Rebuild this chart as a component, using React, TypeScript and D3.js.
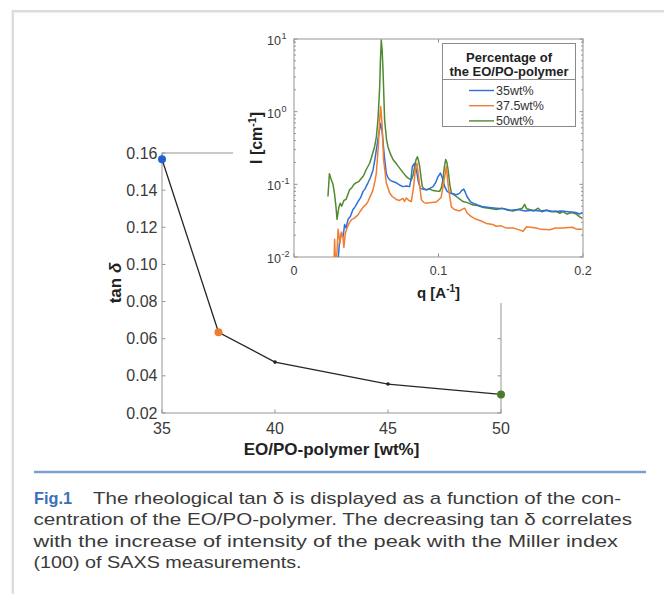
import React from "react";
import * as d3 from "d3";

const width = 664;
const height = 594;

// main chart: tan delta vs polymer content
const wtPct = [35, 37.5, 40, 45, 50];
const tanDelta = [0.1566, 0.0635, 0.0474, 0.0356, 0.03];
const markerColor = ["#1f62d0", "#ef7d2f", "#222", "#222", "#4a7d2a"];
const markerSize = [4, 4, 1.8, 1.8, 4];
const mainXTicks = [35, 40, 45, 50];
const mainYTicks = [0.02, 0.04, 0.06, 0.08, 0.1, 0.12, 0.14, 0.16];

// inset: SAXS curves, [q, I]
const saxs35: [number, number][] = [
  [0.0305, 0.009], [0.0315, 0.016], [0.0328, 0.021], [0.034, 0.019], [0.035, 0.028], [0.036, 0.025],
  [0.0374, 0.033], [0.039, 0.036], [0.0408, 0.045], [0.042, 0.048], [0.0443, 0.058], [0.046, 0.065],
  [0.0478, 0.08], [0.049, 0.086], [0.0512, 0.105], [0.053, 0.125], [0.0547, 0.158], [0.056, 0.22],
  [0.057, 0.3], [0.0588, 0.51], [0.06, 0.69], [0.0611, 0.51], [0.0623, 0.27], [0.0639, 0.14],
  [0.065, 0.125], [0.0662, 0.115], [0.068, 0.11], [0.0708, 0.105], [0.073, 0.098], [0.0754, 0.093],
  [0.078, 0.095], [0.08, 0.093], [0.081, 0.12], [0.0819, 0.176], [0.0835, 0.195], [0.0851, 0.143],
  [0.086, 0.11], [0.0874, 0.088], [0.089, 0.086], [0.0916, 0.084], [0.094, 0.088], [0.0962, 0.093],
  [0.098, 0.105], [0.0997, 0.128], [0.1013, 0.143], [0.1025, 0.125], [0.1043, 0.093], [0.106, 0.08],
  [0.1077, 0.076], [0.11, 0.074], [0.1123, 0.072], [0.1145, 0.075], [0.116, 0.082], [0.1175, 0.086],
  [0.1185, 0.078], [0.1197, 0.068], [0.122, 0.058], [0.1239, 0.055], [0.127, 0.052], [0.131, 0.049],
  [0.135, 0.048], [0.14, 0.047], [0.145, 0.046], [0.15, 0.044], [0.155, 0.045], [0.16, 0.043],
  [0.165, 0.044], [0.17, 0.043], [0.175, 0.044], [0.18, 0.042], [0.185, 0.043], [0.19, 0.042],
  [0.195, 0.041], [0.1975, 0.039], [0.1995, 0.041]
];
const saxs375: [number, number][] = [
  [0.0277, 0.008], [0.0281, 0.0175], [0.0288, 0.008], [0.0298, 0.012], [0.0305, 0.024], [0.0318, 0.0155],
  [0.0328, 0.022], [0.0339, 0.0189], [0.0345, 0.0135], [0.0355, 0.021], [0.037, 0.026], [0.0385, 0.03],
  [0.04, 0.033], [0.0415, 0.034], [0.0443, 0.038], [0.046, 0.043], [0.048, 0.049], [0.05, 0.053],
  [0.0512, 0.058], [0.053, 0.07], [0.0547, 0.084], [0.056, 0.11], [0.057, 0.143], [0.0583, 0.33],
  [0.0593, 0.77], [0.06, 1.18], [0.0609, 0.69], [0.062, 0.22], [0.0639, 0.105], [0.0662, 0.076],
  [0.068, 0.068], [0.0708, 0.062], [0.073, 0.06], [0.0754, 0.064], [0.0765, 0.058], [0.0777, 0.065],
  [0.0795, 0.06], [0.0812, 0.058], [0.0828, 0.093], [0.0842, 0.176], [0.0851, 0.195], [0.0865, 0.115],
  [0.0881, 0.062], [0.09, 0.056], [0.0916, 0.055], [0.094, 0.056], [0.0985, 0.057], [0.1018, 0.066],
  [0.1043, 0.128], [0.1054, 0.176], [0.1068, 0.093], [0.1089, 0.049], [0.111, 0.045], [0.1146, 0.043],
  [0.117, 0.046], [0.1181, 0.047], [0.12, 0.04], [0.1227, 0.036], [0.1262, 0.033], [0.13, 0.031],
  [0.1331, 0.029], [0.1375, 0.028], [0.14, 0.0265], [0.143, 0.027], [0.147, 0.025], [0.1516, 0.025],
  [0.155, 0.024], [0.1585, 0.0226], [0.161, 0.026], [0.1677, 0.025], [0.171, 0.024], [0.177, 0.0237],
  [0.181, 0.025], [0.186, 0.025], [0.1925, 0.0257], [0.196, 0.024], [0.1995, 0.024]
];
const saxs50: [number, number][] = [
  [0.0235, 0.068], [0.0245, 0.14], [0.0255, 0.12], [0.027, 0.1], [0.028, 0.075], [0.029, 0.05],
  [0.0298, 0.033], [0.031, 0.048], [0.032, 0.055], [0.033, 0.05], [0.0345, 0.06], [0.036, 0.062],
  [0.0375, 0.075], [0.0385, 0.084], [0.04, 0.09], [0.0415, 0.1], [0.043, 0.105], [0.045, 0.11],
  [0.0465, 0.12], [0.048, 0.13], [0.05, 0.16], [0.0524, 0.195], [0.054, 0.25], [0.0558, 0.33],
  [0.057, 0.45], [0.0581, 0.77], [0.0593, 2.2], [0.0598, 5], [0.0604, 9.7], [0.061, 7],
  [0.0616, 3.75], [0.0622, 1.6], [0.0627, 0.77], [0.064, 0.42], [0.065, 0.33], [0.0668, 0.26],
  [0.0685, 0.22], [0.071, 0.19], [0.0731, 0.167], [0.0755, 0.145], [0.0777, 0.128], [0.0795, 0.12],
  [0.0812, 0.115], [0.0825, 0.135], [0.0835, 0.176], [0.0845, 0.22], [0.0854, 0.24], [0.0862, 0.21],
  [0.087, 0.176], [0.0878, 0.13], [0.0888, 0.093], [0.09, 0.087], [0.0916, 0.084], [0.094, 0.086],
  [0.0962, 0.082], [0.0985, 0.081], [0.1008, 0.08], [0.102, 0.09], [0.103, 0.115], [0.104, 0.17],
  [0.105, 0.22], [0.1058, 0.2], [0.1066, 0.16], [0.1078, 0.1], [0.1089, 0.076], [0.1105, 0.072],
  [0.1123, 0.068], [0.115, 0.062], [0.117, 0.058], [0.12, 0.056], [0.1239, 0.052], [0.127, 0.051],
  [0.131, 0.048], [0.135, 0.047], [0.14, 0.045], [0.144, 0.047], [0.148, 0.044], [0.1516, 0.043],
  [0.155, 0.045], [0.158, 0.047], [0.1596, 0.053], [0.161, 0.046], [0.163, 0.045], [0.166, 0.043],
  [0.169, 0.047], [0.1715, 0.042], [0.1746, 0.044], [0.178, 0.042], [0.181, 0.043], [0.184, 0.04],
  [0.186, 0.042], [0.189, 0.039], [0.192, 0.041], [0.1954, 0.039], [0.1975, 0.036], [0.1995, 0.034]
];
const seriesNames = ["35wt%", "37.5wt%", "50wt%"];
const seriesColors = ["#2f6fd6", "#f07d32", "#4f8a2e"];
const insetXTicks = [0, 0.1, 0.2];
const insetYExp = [-2, -1, 0, 1];

const captionLines = [
  "The rheological tan \u03b4 is displayed as a function of the con-",
  "centration of the EO/PO-polymer. The decreasing tan \u03b4 correlates",
  "with the increase of intensity of the peak with the Miller index",
  "(100) of SAXS measurements."
];

const font = "'Liberation Sans', Arial, sans-serif";
const axisGray = "#959595";
const labelGray = "#3a3a3a";

export default function App() {
  // main axes
  const x = d3.scaleLinear().domain([35, 50]).range([162, 501]);
  const y = d3.scaleLinear().domain([0.02, 0.16]).range([413, 153]);
  const mainLine = d3
    .line<number>()
    .x((d, i) => x(wtPct[i]))
    .y(d => y(d));

  // inset axes
  const qx = d3.scaleLinear().domain([0, 0.2]).range([294, 583]);
  const iy = d3.scaleLog().domain([0.01, 10]).range([257, 39]);
  const saxsLine = d3
    .line<[number, number]>()
    .x(d => qx(d[0]))
    .y(d => iy(d[1]));
  const minorTicks: number[] = [];
  insetYExp.slice(0, 3).forEach(e => {
    for (let k = 2; k <= 9; k++) minorTicks.push(k * Math.pow(10, e));
  });

  const tick = 3.5;

  return (
    <svg
      width={width}
      height={height}
      style={{ position: "absolute", left: 0, top: 0, background: "#fff" }}
      fontFamily={font}
    >
      {/* page frame */}
      <line x1={12.8} x2={12.8} y1={10} y2={height} stroke="#dcdcdc" strokeWidth={2.4} />
      <line x1={12} x2={width} y1={11.2} y2={11.2} stroke="#dcdcdc" strokeWidth={2.4} />

      {/* main chart box */}
      <rect
        x={x(35)}
        y={y(0.16)}
        width={x(50) - x(35)}
        height={y(0.02) - y(0.16)}
        fill="none"
        stroke={axisGray}
        strokeWidth={1}
      />
      {mainYTicks.map(t => (
        <g key={"my" + t}>
          <line x1={x(35)} x2={x(35) + tick} y1={y(t)} y2={y(t)} stroke={axisGray} />
          <line x1={x(50)} x2={x(50) - tick} y1={y(t)} y2={y(t)} stroke={axisGray} />
          <text
            x={x(35) - 4.5}
            y={y(t) + 5.5}
            fontSize={16}
            textAnchor="end"
            fill={labelGray}
          >
            {t.toFixed(2)}
          </text>
        </g>
      ))}
      {mainXTicks.map(t => (
        <g key={"mx" + t}>
          <line x1={x(t)} x2={x(t)} y1={y(0.02)} y2={y(0.02) - tick} stroke={axisGray} />
          <line x1={x(t)} x2={x(t)} y1={y(0.16)} y2={y(0.16) + tick} stroke={axisGray} />
          <text x={x(t)} y={y(0.02) + 21} fontSize={16} textAnchor="middle" fill={labelGray}>
            {t}
          </text>
        </g>
      ))}
      <path d={mainLine(tanDelta) || ""} fill="none" stroke="#262626" strokeWidth={1.3} />
      {tanDelta.map((v, i) => (
        <circle key={"pt" + i} cx={x(wtPct[i])} cy={y(v)} r={markerSize[i]} fill={markerColor[i]} />
      ))}
      <text
        x={(x(35) + x(50)) / 2}
        y={455}
        fontSize={17}
        fontWeight="bold"
        textAnchor="middle"
        fill="#222"
      >
        EO/PO-polymer [wt%]
      </text>
      <text
        transform={`translate(121,${283}) rotate(-90)`}
        fontSize={17}
        fontWeight="bold"
        textAnchor="middle"
        fill="#222"
      >
        tan <tspan fontStyle="italic">{"\u03b4"}</tspan>
      </text>

      {/* inset figure (sits on top of the main box) */}
      <rect x={233} y={22} width={372} height={281} fill="#fff" />
      <defs>
        <clipPath id="insetClip">
          <rect x={qx(0)} y={iy(10)} width={qx(0.2) - qx(0)} height={iy(0.01) - iy(10)} />
        </clipPath>
      </defs>
      <rect
        x={qx(0)}
        y={iy(10)}
        width={qx(0.2) - qx(0)}
        height={iy(0.01) - iy(10)}
        fill="none"
        stroke={axisGray}
      />
      {insetYExp.map(e => (
        <g key={"iy" + e}>
          <line x1={qx(0)} x2={qx(0) + tick} y1={iy(Math.pow(10, e))} y2={iy(Math.pow(10, e))} stroke={axisGray} />
          <line x1={qx(0.2)} x2={qx(0.2) - tick} y1={iy(Math.pow(10, e))} y2={iy(Math.pow(10, e))} stroke={axisGray} />
          <text x={qx(0) - 13} y={iy(Math.pow(10, e)) + 6} fontSize={12.5} textAnchor="end" fill={labelGray}>
            10
          </text>
          <text x={qx(0) - 12.5} y={iy(Math.pow(10, e)) + 0} fontSize={9} textAnchor="start" fill={labelGray}>
            {e}
          </text>
        </g>
      ))}
      {minorTicks.map(m => (
        <g key={"mn" + m}>
          <line x1={qx(0)} x2={qx(0) + 2} y1={iy(m)} y2={iy(m)} stroke={axisGray} />
          <line x1={qx(0.2)} x2={qx(0.2) - 2} y1={iy(m)} y2={iy(m)} stroke={axisGray} />
        </g>
      ))}
      {insetXTicks.map(t => (
        <g key={"ix" + t}>
          <line x1={qx(t)} x2={qx(t)} y1={iy(0.01)} y2={iy(0.01) - tick} stroke={axisGray} />
          <line x1={qx(t)} x2={qx(t)} y1={iy(10)} y2={iy(10) + tick} stroke={axisGray} />
          <text x={qx(t)} y={iy(0.01) + 18} fontSize={12.5} textAnchor="middle" fill={labelGray}>
            {t === 0 ? "0" : String(t)}
          </text>
        </g>
      ))}
      <g clipPath="url(#insetClip)" fill="none" strokeWidth={1.5} strokeLinejoin="round">
        <path d={saxsLine(saxs50) || ""} stroke={seriesColors[2]} />
        <path d={saxsLine(saxs35) || ""} stroke={seriesColors[0]} />
        <path d={saxsLine(saxs375) || ""} stroke={seriesColors[1]} />
      </g>
      <text x={(qx(0) + qx(0.2)) / 2} y={298} fontSize={15} fontWeight="bold" textAnchor="middle" fill="#222">
        q [A<tspan dy={-6} fontSize={10}>-1</tspan>
        <tspan dy={6}>]</tspan>
      </text>
      <text
        transform={`translate(262,${138}) rotate(-90)`}
        fontSize={16}
        fontWeight="bold"
        textAnchor="middle"
        fill="#222"
      >
        I [cm<tspan dy={-6} fontSize={10.5}>-1</tspan>
        <tspan dy={6}>]</tspan>
      </text>

      {/* legend */}
      <rect x={442.5} y={43.5} width={133} height={83} fill="#fff" stroke="#8a8a8a" />
      <line x1={442.5} x2={575.5} y1={79.5} y2={79.5} stroke="#8a8a8a" />
      <text x={509} y={61.5} fontSize={13} fontWeight="bold" textAnchor="middle" fill="#222">
        Percentage of
      </text>
      <text x={509} y={76} fontSize={13} fontWeight="bold" textAnchor="middle" fill="#222">
        the EO/PO-polymer
      </text>
      {seriesNames.map((s, i) => (
        <g key={s}>
          <line x1={469} x2={494} y1={90.5 + i * 15.2} y2={90.5 + i * 15.2} stroke={seriesColors[i]} strokeWidth={1.4} />
          <text x={496} y={95 + i * 15.2} fontSize={12.5} fill="#333">
            {s}
          </text>
        </g>
      ))}

      {/* caption */}
      <line x1={34} x2={646} y1={472} y2={472} stroke="#7d9fd2" strokeWidth={2.4} />
      <g fontFamily="'Liberation Sans', Arial, sans-serif" fontSize={17} fill="#3a3a3a">
        <text x={34} y={503.5} fill="#3b70b7" fontWeight="bold" textLength={38} lengthAdjust="spacingAndGlyphs">
          Fig.1
        </text>
        <text x={93} y={503.5} textLength={528} lengthAdjust="spacingAndGlyphs">
          {captionLines[0]}
        </text>
        <text x={33.5} y={525} textLength={598.5} lengthAdjust="spacingAndGlyphs">
          {captionLines[1]}
        </text>
        <text x={33.5} y={546.5} textLength={584.5} lengthAdjust="spacingAndGlyphs">
          {captionLines[2]}
        </text>
        <text x={33.5} y={568} textLength={268} lengthAdjust="spacingAndGlyphs">
          {captionLines[3]}
        </text>
      </g>
    </svg>
  );
}
